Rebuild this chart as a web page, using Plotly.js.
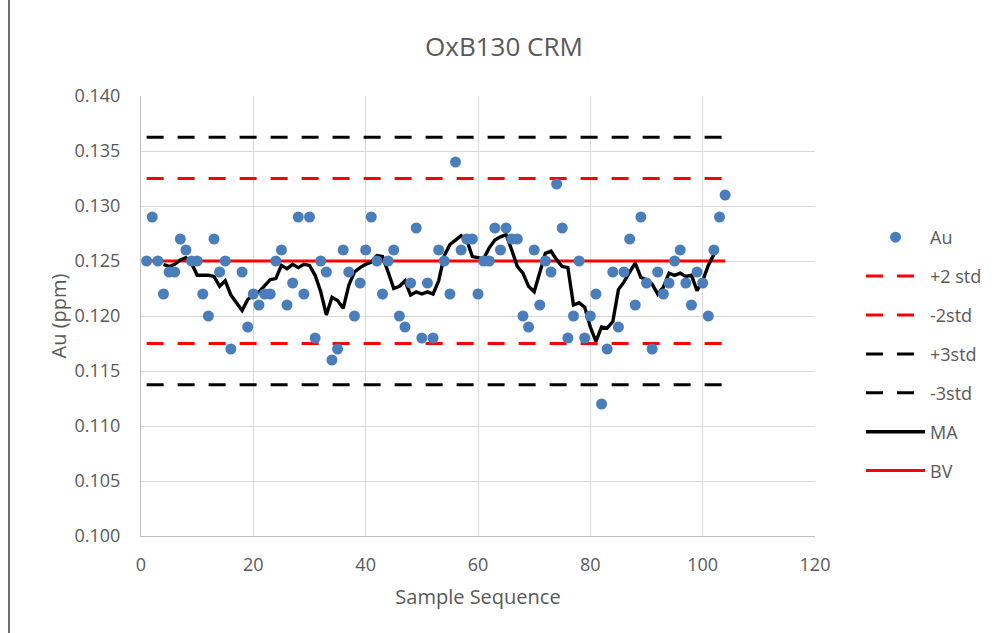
<!DOCTYPE html>
<html>
<head>
<meta charset="utf-8">
<script src="https://cdn.plot.ly/plotly-3.0.1.min.js"></script>
<style>
html,body{margin:0;padding:0;background:#fff;}
#chart{width:999px;height:633px;}
</style>
</head>
<body>
<div id="chart"></div>
<script>
// Sample sequence numbers (x) and Au assays (ppm); sample 17 shows no point
const sampleSeq = [1,2,3,4,5,6,7,8,9,10,11,12,13,14,15,16,17,18,19,20,21,22,23,24,25,26,27,28,29,30,
  31,32,33,34,35,36,37,38,39,40,41,42,43,44,45,46,47,48,49,50,51,52,53,54,55,56,57,58,59,60,
  61,62,63,64,65,66,67,68,69,70,71,72,73,74,75,76,77,78,79,80,81,82,83,84,85,86,87,88,89,90,
  91,92,93,94,95,96,97,98,99,100,101,102,103,104];
const auValues = [0.125,0.129,0.125,0.122,0.124,0.124,0.127,0.126,0.125,0.125,
  0.122,0.120,0.127,0.124,0.125,0.117,null,0.124,0.119,0.122,
  0.121,0.122,0.122,0.125,0.126,0.121,0.123,0.129,0.122,0.129,
  0.118,0.125,0.124,0.116,0.117,0.126,0.124,0.120,0.123,0.126,
  0.129,0.125,0.122,0.125,0.126,0.120,0.119,0.123,0.128,0.118,
  0.123,0.118,0.126,0.125,0.122,0.134,0.126,0.127,0.127,0.122,
  0.125,0.125,0.128,0.126,0.128,0.127,0.127,0.120,0.119,0.126,
  0.121,0.125,0.124,0.132,0.128,0.118,0.120,0.125,0.118,0.120,
  0.122,0.112,0.117,0.124,0.119,0.124,0.127,0.121,0.129,0.123,
  0.117,0.124,0.122,0.123,0.125,0.126,0.123,0.121,0.124,0.123,
  0.120,0.126,0.129,0.131];

// Moving average series, samples 4..102
const maSeq = [4,5,6,7,8,9,10,11,12,13,14,15,16,17,18,19,20,21,22,23,24,25,26,27,28,29,30,
  31,32,33,34,35,36,37,38,39,40,41,42,43,44,45,46,47,48,49,50,51,52,53,54,55,56,57,58,59,60,
  61,62,63,64,65,66,67,68,69,70,71,72,73,74,75,76,77,78,79,80,81,82,83,84,85,86,87,88,89,90,
  91,92,93,94,95,96,97,98,99,100,101,102];
const maValues = [0.1247,0.1245,0.1247,0.1251,0.1253,0.1248,0.1237,0.1237,0.1237,0.1236,
  0.1227,0.1232,0.1219,0.1212,0.1205,0.1215,0.1219,0.1222,0.1228,0.1233,
  0.1234,0.1246,0.1243,0.1247,0.1244,0.1247,0.1246,0.1237,0.1222,0.1201,
  0.1217,0.1214,0.1207,0.1228,0.1240,0.1244,0.1247,0.1249,0.1255,0.1254,
  0.1240,0.1225,0.1227,0.1232,0.1219,0.1222,0.1220,0.1222,0.1220,0.1232,
  0.1255,0.1265,0.1269,0.1273,0.1269,0.1254,0.1253,0.1252,0.1262,0.1269,
  0.1272,0.1274,0.1260,0.1245,0.1239,0.1227,0.1222,0.1240,0.1257,0.1259,
  0.1251,0.1245,0.1244,0.1210,0.1212,0.1208,0.1190,0.1177,0.1190,0.1189,
  0.1195,0.1224,0.1231,0.1240,0.1248,0.1235,0.1233,0.1229,0.1220,0.1226,
  0.1239,0.1237,0.1239,0.1236,0.1237,0.1223,0.1232,0.1246,0.1256];

// Control limits (ppm) spanning the sample range
const limitSeq = [1, 104];
const bestValue = 0.125;
const plus2std = 0.1325;
const minus2std = 0.1175;
const plus3std = 0.13625;
const minus3std = 0.11375;

// Labels
const chartTitle = 'OxB130 CRM';
const xTitle = 'Sample Sequence';
const yTitle = 'Au (ppm)';
const seriesNames = ['Au', '+2 std', '-2std', '+3std', '-3std', 'MA', 'BV'];

const FONT = '"Open Sans", "Noto Sans", sans-serif';
const GREY = '#595959';
const DASH = '17px,14px';

function hline(val, name, color, dash, rank) {
  return {
    x: limitSeq, y: limitSeq.map(() => val), name: name, type: 'scatter', mode: 'lines',
    line: {color: color, width: 3, dash: dash}, legendgroup: name, legendrank: rank,
    hoverinfo: 'skip'
  };
}

const traces = [
  hline(plus3std, seriesNames[3], '#000000', DASH, 4),
  hline(minus3std, seriesNames[4], '#000000', DASH, 5),
  hline(plus2std, seriesNames[1], '#FF0000', DASH, 2),
  hline(minus2std, seriesNames[2], '#FF0000', DASH, 3),
  hline(bestValue, seriesNames[6], '#FF0000', 'solid', 7),
  {x: maSeq, y: maValues, name: seriesNames[5], type: 'scatter', mode: 'lines',
   line: {color: '#000000', width: 3.4}, legendgroup: seriesNames[5], legendrank: 6},
  {x: sampleSeq, y: auValues, name: seriesNames[0], type: 'scatter', mode: 'markers',
   marker: {color: '#4A7EBB', size: 11}, legendgroup: seriesNames[0], legendrank: 1}
];

const L = 141, R = 815, T = 96, B = 536, W = 999, H = 633;
const pw = R - L, ph = B - T;
const px = v => (v - L) / pw;
const py = v => 1 - (v - T) / ph;

const layout = {
  width: W, height: H,
  margin: {l: L, r: W - R, t: T, b: H - B, pad: 0},
  paper_bgcolor: '#ffffff', plot_bgcolor: '#ffffff',
  font: {family: FONT, color: GREY, size: 18},
  title: {text: chartTitle, font: {family: FONT, size: 26, color: GREY},
          xref: 'paper', x: px(504), xanchor: 'center', yref: 'container', y: 1 - 47 / H, yanchor: 'middle'},
  xaxis: {
    range: [0, 120], dtick: 20, tick0: 0, showgrid: true, gridcolor: '#D9D9D9', gridwidth: 1,
    zeroline: false, showline: true, linecolor: '#BFBFBF', linewidth: 1, ticks: '',
    tickfont: {family: FONT, size: 18, color: GREY}, ticklabelstandoff: 12,
    title: {text: xTitle, font: {family: FONT, size: 20, color: GREY}, standoff: 15}
  },
  yaxis: {
    range: [0.100, 0.140], dtick: 0.005, tick0: 0.1, tickformat: '.3f', showgrid: true,
    gridcolor: '#D9D9D9', gridwidth: 1, zeroline: false, showline: true, linecolor: '#BFBFBF',
    linewidth: 1, ticks: '', tickfont: {family: FONT, size: 18, color: GREY}, ticklabelstandoff: 16,
    title: {text: yTitle, font: {family: FONT, size: 20, color: GREY}, standoff: 2}
  },
  legend: {
    x: px(861), xanchor: 'left', y: py(219), yanchor: 'top',
    traceorder: 'grouped', tracegroupgap: 12.5, itemwidth: 59,
    font: {family: FONT, size: 18, color: GREY}, bgcolor: 'rgba(0,0,0,0)'
  },
  showlegend: true,
  shapes: [
    {type: 'line', xref: 'paper', yref: 'paper', x0: px(9), x1: px(9), y0: py(0), y1: py(H),
     line: {color: '#404040', width: 1.5}}
  ]
};

Plotly.newPlot('chart', traces, layout, {displayModeBar: false, staticPlot: true});
</script>
</body>
</html>
